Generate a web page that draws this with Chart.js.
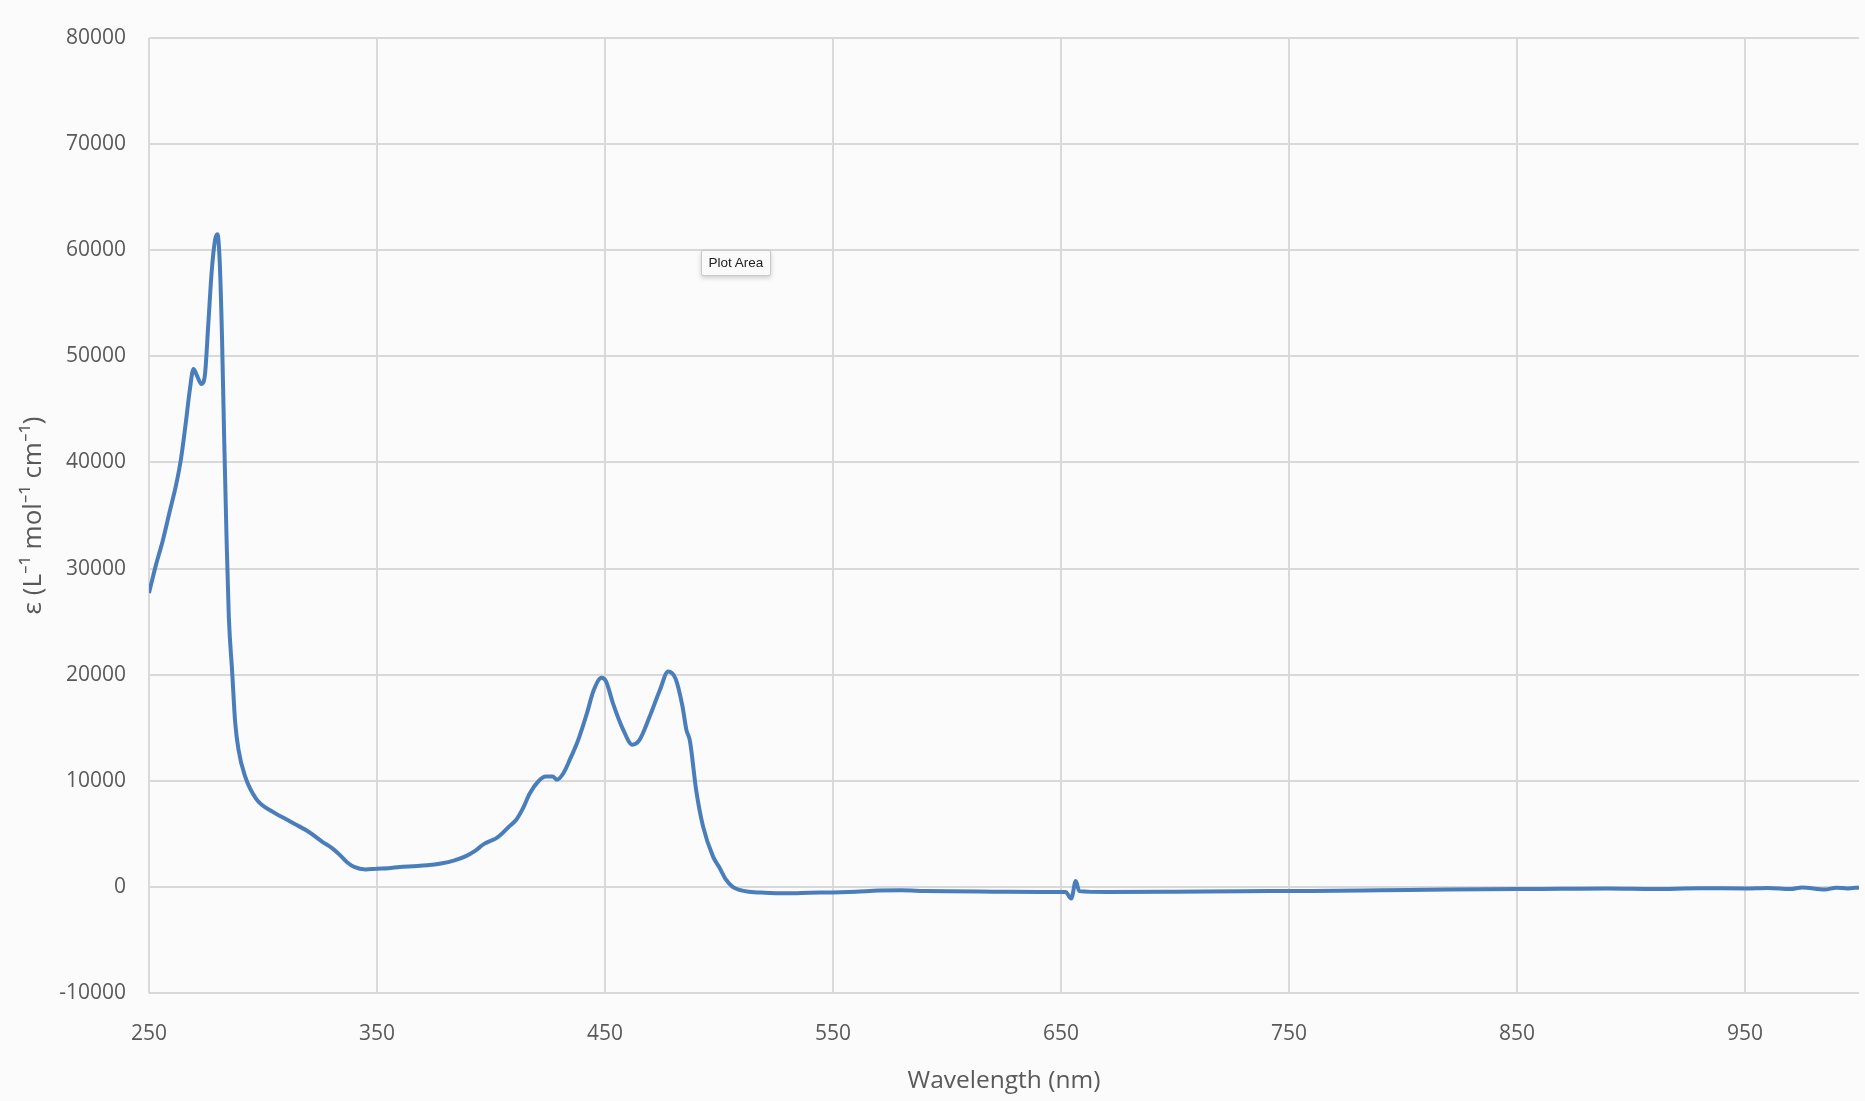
<!DOCTYPE html>
<html>
<head>
<meta charset="utf-8">
<title>Absorption spectrum</title>
<script src="https://cdn.jsdelivr.net/npm/chart.js@4"></script>
<style>
  html, body {
    margin: 0;
    padding: 0;
    background: #fbfbfb;
  }
  #wrap {
    position: relative;
    width: 1865px;
    height: 1101px;
  }
  #plot-area-tip {
    position: absolute;
    left: 701px;
    top: 250px;
    width: 68px;
    height: 24px;
    line-height: 24px;
    text-align: center;
    font-family: "Liberation Sans", Arial, sans-serif;
    font-size: 13.5px;
    color: #222;
    background: #fafafa;
    border: 1px solid #c8c8c8;
    border-radius: 2px;
    box-shadow: 0 2px 5px rgba(0, 0, 0, 0.18);
  }
</style>
</head>
<body>
<div id="wrap">
  <canvas id="myChart" width="1865" height="1101"></canvas>
  <div id="plot-area-tip">Plot Area</div>
</div>
<script>
// wavelength (nm)
const wavelength = [
  250, 253, 256, 259, 262, 264, 266, 268, 269.5, 271, 273, 274.5, 276, 277.5,
  279, 280, 281, 282, 283, 284, 285, 286.5, 287.8, 289.2, 292, 297, 304.5,
  310, 315, 320, 326, 330, 334, 337, 340, 345, 350, 355, 360, 366, 372, 378,
  384, 389, 393, 397, 402, 404, 408, 411, 414, 417, 421, 424, 427, 429, 432,
  435, 438, 442, 445, 448.5, 450.5, 453.5, 458, 462, 465, 469.5, 474, 477.7,
  481, 484, 485.7, 487.2, 490, 493, 497.4, 500, 503, 506, 509, 513, 520, 530,
  540, 550, 560, 570, 580, 590, 600, 620, 640, 652, 654.5, 656.5, 658, 670,
  700, 730, 760, 790, 820, 850, 870, 890, 910, 930, 950, 960, 970, 975, 985,
  990, 995, 1000
];

// molar absorptivity, L mol-1 cm-1
const epsilon = [
  27700, 30300, 32600, 35300, 38000, 40300, 43500, 47000, 48800, 48200, 47400,
  48200, 53000, 58000, 61000, 61500, 59000, 52000, 42000, 33000, 25500, 20200,
  15500, 13000, 10500, 8300, 7050, 6400, 5800, 5200, 4250, 3700, 2950, 2300,
  1880, 1650, 1720, 1750, 1880, 1950, 2030, 2200, 2500, 2900, 3400, 4050, 4550,
  4860, 5700, 6300, 7400, 8800, 10000, 10400, 10400, 10100, 10800, 12200,
  13700, 16300, 18500, 19700, 19350, 17300, 14800, 13400, 13800, 16000, 18500,
  20300, 19600, 17000, 14800, 13800, 9100, 5700, 2850, 1900, 700, 0, -280,
  -450, -550, -600, -550, -520, -450, -350, -320, -380, -420, -450, -480,
  -470, -1100, 550, -400, -480, -450, -400, -380, -320, -250, -200, -180,
  -150, -200, -130, -150, -100, -200, -50, -250, -80, -150, -50
];

const xTicks = [250, 350, 450, 550, 650, 750, 850, 950];
const yTicks = [-10000, 0, 10000, 20000, 30000, 40000, 50000, 60000, 70000, 80000];

const points = wavelength.map((w, i) => ({ x: w, y: epsilon[i] }));

const gridColor = "#d9d9d9";
const textColor = "#595959";
const fontFamily = "'Open Sans', 'Noto Sans', sans-serif";

// paint the page colour behind the chart
const bgPlugin = {
  id: "bg",
  beforeDraw(chart) {
    const ctx = chart.ctx;
    ctx.save();
    ctx.fillStyle = "#fbfbfb";
    ctx.fillRect(0, 0, chart.width, chart.height);
    ctx.restore();
  }
};

const ctx = document.getElementById("myChart").getContext("2d");
new Chart(ctx, {
  type: "scatter",
  data: {
    datasets: [
      {
        data: points,
        showLine: true,
        borderColor: "#4a7ebb",
        backgroundColor: "#4a7ebb",
        borderWidth: 4,
        pointRadius: 0,
        cubicInterpolationMode: "monotone",
        fill: false
      }
    ]
  },
  options: {
    responsive: false,
    animation: false,
    layout: {
      padding: { left: 0, right: 6, top: 38, bottom: 0 }
    },
    plugins: {
      legend: { display: false },
      tooltip: { enabled: false }
    },
    scales: {
      x: {
        type: "linear",
        min: 250,
        max: 1000,
        afterBuildTicks: scale => {
          scale.ticks = xTicks.map(v => ({ value: v }));
        },
        afterFit: scale => {
          scale.height = 108;
        },
        border: { display: false },
        grid: { color: gridColor, lineWidth: 2, drawTicks: false },
        ticks: {
          color: textColor,
          padding: 28,
          maxRotation: 0,
          font: { family: fontFamily, size: 21 }
        },
        title: {
          display: true,
          text: "Wavelength (nm)",
          color: textColor,
          padding: { top: 0, bottom: 5 },
          font: { family: fontFamily, size: 24.5 }
        }
      },
      y: {
        min: -10000,
        max: 80000,
        afterBuildTicks: scale => {
          scale.ticks = yTicks.map(v => ({ value: v }));
        },
        afterFit: scale => {
          scale.width = 149;
        },
        border: { display: false },
        grid: { color: gridColor, lineWidth: 2, drawTicks: false },
        ticks: {
          color: textColor,
          padding: 23,
          font: { family: fontFamily, size: 21 },
          callback: v => String(v)
        },
        title: {
          display: true,
          text: "ε (L⁻¹ mol⁻¹ cm⁻¹)",
          color: textColor,
          padding: { top: 18, bottom: 0 },
          font: { family: fontFamily, size: 26 }
        }
      }
    }
  },
  plugins: [bgPlugin]
});
</script>
</body>
</html>
